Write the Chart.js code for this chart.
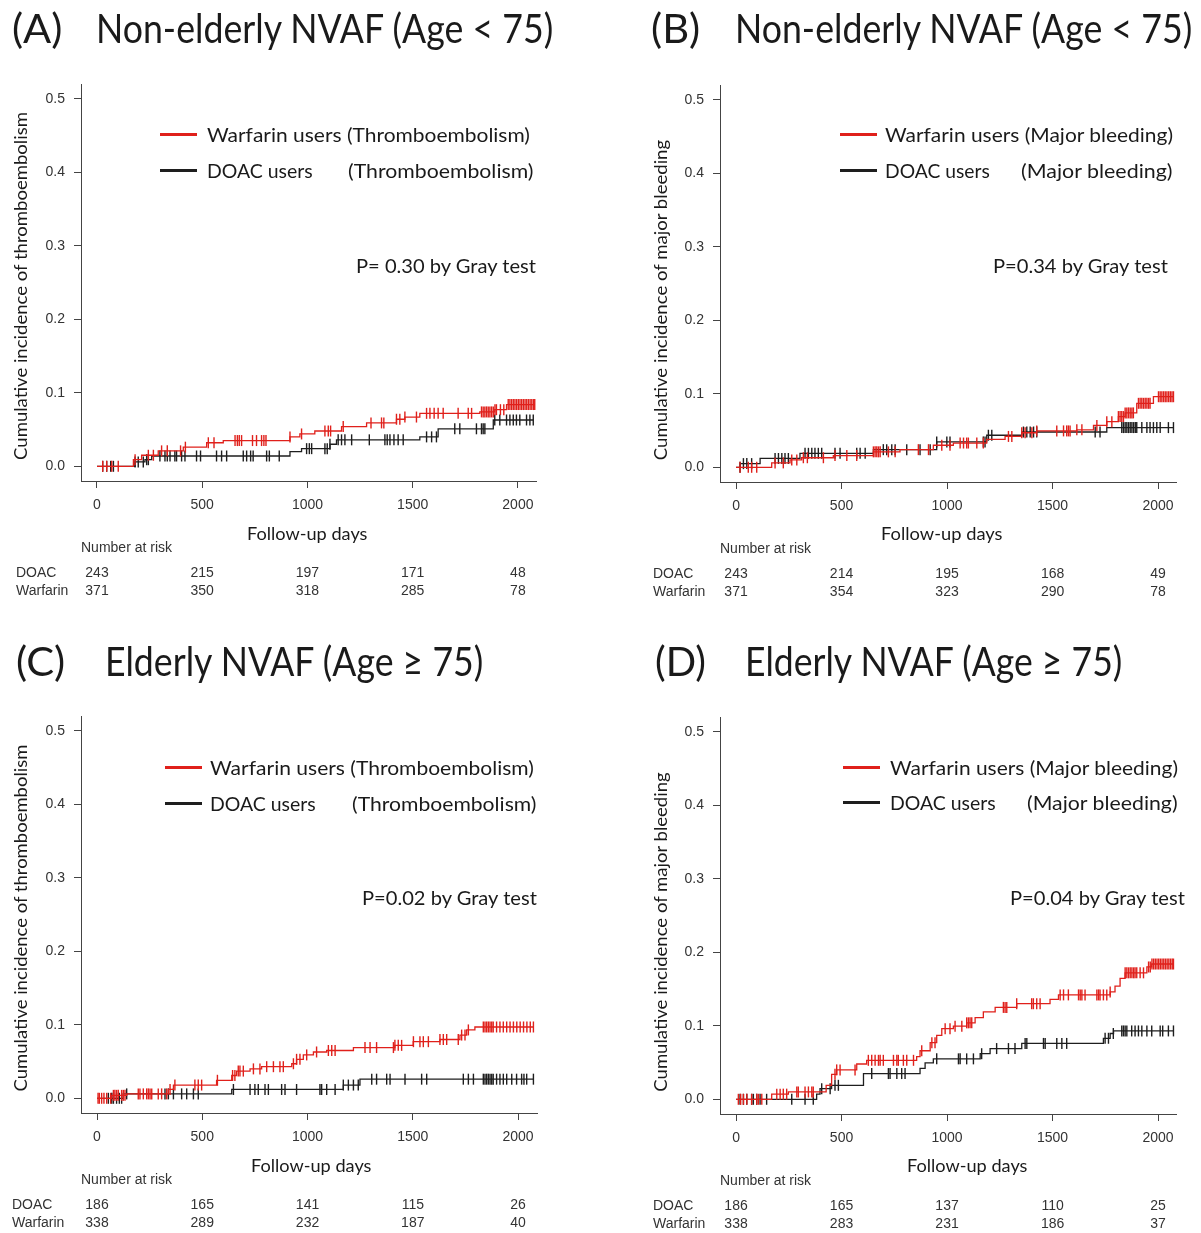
<!DOCTYPE html>
<html>
<head>
<meta charset="utf-8">
<script src="https://cdn.jsdelivr.net/npm/chart.js@4.4.0/dist/chart.umd.min.js"></script>
<style>
  body { margin: 0; background: #fff; width: 1201px; height: 1233px; position: relative; overflow: hidden; font-family: Lato, "Noto Sans", sans-serif; color: #1a1a1a; }
  canvas { position: absolute; }
  .t { position: absolute; white-space: nowrap; line-height: 1; }
  .sw { position: absolute; height: 3px; width: 37px; }
</style>
</head>
<body>
<script>
// ---------------------------------------------------------------
//  cumulative incidence curves (Gray test), 4 panels
// ---------------------------------------------------------------

const xTicks = [0, 500, 1000, 1500, 2000];
const yTicks = [0, 0.1, 0.2, 0.3, 0.4, 0.5];

// (A) non-elderly, thromboembolism
const aWarfarinDays = [0, 173, 212, 291, 410, 521, 600, 917, 964, 1035, 1162, 1281, 1423, 1463, 1534, 1819, 1890, 1946];
const aWarfarinCI = [0, 0.009, 0.015, 0.021, 0.026, 0.032, 0.035, 0.040, 0.044, 0.048, 0.054, 0.059, 0.064, 0.067, 0.072, 0.074, 0.077, 0.084];
const aWarfarinCensored = [27, 46, 70, 101, 181, 244, 268, 307, 334, 397, 420, 529, 556, 656, 667, 676, 687, 739, 758, 782, 793, 803, 917, 972, 1083, 1099, 1110, 1170, 1302, 1352, 1363, 1423, 1439, 1463, 1518, 1566, 1582, 1602, 1621, 1645, 1716, 1764, 1780, 1827, 1835, 1843, 1851, 1859, 1867, 1875, 1883, 1891, 1898, 1917, 1933, 1954, 1962, 1970, 1978, 1986, 1994, 2002, 2010, 2018, 2026, 2034, 2042, 2050, 2058, 2066, 2074, 2080];
const aDoacDays = [0, 181, 228, 260, 917, 972, 1107, 1138, 1534, 1621, 1883];
const aDoacCI = [0, 0.006, 0.009, 0.014, 0.020, 0.024, 0.030, 0.036, 0.040, 0.051, 0.063];
const aDoacCensored = [27, 46, 65, 78, 181, 196, 220, 236, 244, 299, 323, 334, 347, 370, 378, 402, 418, 473, 492, 568, 592, 616, 695, 711, 730, 742, 806, 819, 866, 996, 1009, 1020, 1083, 1094, 1107, 1146, 1162, 1178, 1210, 1294, 1368, 1379, 1392, 1411, 1431, 1455, 1566, 1590, 1613, 1700, 1724, 1803, 1827, 1835, 1843, 1890, 1914, 1946, 1962, 1978, 1993, 2009, 2041, 2057, 2073];
const aRiskDoac = [243, 215, 197, 171, 48];
const aRiskWarfarin = [371, 350, 318, 285, 78];

// (B) non-elderly, major bleeding
const bWarfarinDays = [0, 169, 256, 311, 461, 651, 777, 935, 1030, 1188, 1275, 1354, 1425, 1615, 1694, 1757, 1812, 1844, 1899, 1978];
const bWarfarinCI = [0, 0.006, 0.010, 0.013, 0.016, 0.021, 0.024, 0.030, 0.033, 0.038, 0.042, 0.047, 0.0495, 0.051, 0.057, 0.062, 0.069, 0.074, 0.087, 0.096];
const bWarfarinCensored = [19, 58, 74, 98, 185, 224, 264, 288, 319, 338, 414, 469, 525, 572, 651, 659, 667, 675, 683, 722, 754, 864, 912, 975, 1014, 1062, 1078, 1093, 1101, 1141, 1172, 1291, 1307, 1354, 1370, 1402, 1425, 1520, 1552, 1567, 1575, 1583, 1615, 1639, 1710, 1757, 1781, 1812, 1820, 1828, 1836, 1844, 1852, 1860, 1868, 1876, 1883, 1907, 1915, 1923, 1931, 1939, 1947, 1955, 1962, 2002, 2010, 2018, 2026, 2034, 2042, 2050, 2058, 2066, 2073];
const bDoacDays = [0, 20, 114, 303, 651, 951, 1188, 1354, 1757];
const bDoacCI = [0, 0.005, 0.012, 0.019, 0.024, 0.0345, 0.0436, 0.048, 0.054];
const bDoacCensored = [19, 35, 51, 74, 185, 201, 217, 232, 248, 327, 343, 359, 374, 390, 406, 469, 493, 572, 588, 612, 698, 714, 738, 754, 809, 872, 920, 951, 999, 1014, 1172, 1180, 1196, 1212, 1362, 1378, 1394, 1410, 1425, 1702, 1725, 1828, 1836, 1844, 1852, 1860, 1868, 1876, 1884, 1892, 1899, 1923, 1947, 1962, 1978, 1994, 2010, 2049, 2073];
const bRiskDoac = [243, 214, 195, 168, 49];
const bRiskWarfarin = [371, 354, 323, 290, 78];

// (C) elderly, thromboembolism
const cWarfarinDays = [0, 70, 141, 339, 363, 568, 640, 663, 727, 782, 925, 948, 980, 1028, 1091, 1218, 1415, 1502, 1629, 1724, 1756, 1795];
const cWarfarinCI = [0, 0.004, 0.006, 0.012, 0.018, 0.0245, 0.031, 0.037, 0.040, 0.043, 0.047, 0.053, 0.059, 0.063, 0.065, 0.069, 0.072, 0.077, 0.080, 0.086, 0.093, 0.097];
const cWarfarinCensored = [5, 11, 22, 33, 46, 65, 78, 85, 93, 101, 117, 125, 133, 196, 204, 220, 236, 244, 252, 260, 291, 307, 331, 347, 370, 465, 481, 497, 572, 644, 655, 671, 679, 695, 743, 774, 806, 838, 869, 885, 933, 948, 964, 996, 1043, 1099, 1115, 1131, 1273, 1297, 1328, 1408, 1415, 1431, 1447, 1503, 1534, 1550, 1574, 1629, 1645, 1661, 1716, 1732, 1748, 1764, 1835, 1843, 1851, 1859, 1867, 1875, 1882, 1898, 1914, 1930, 1946, 1962, 1978, 1994, 2010, 2026, 2042, 2058, 2073];
const cDoacDays = [0, 125, 640, 1170, 1249];
const cDoacCI = [0, 0.006, 0.012, 0.018, 0.026];
const cDoacCensored = [54, 70, 78, 93, 106, 117, 141, 323, 339, 363, 402, 426, 458, 481, 648, 727, 750, 766, 798, 814, 877, 893, 948, 1059, 1067, 1091, 1131, 1170, 1194, 1218, 1241, 1305, 1328, 1376, 1392, 1463, 1542, 1566, 1740, 1764, 1788, 1835, 1843, 1851, 1859, 1867, 1875, 1882, 1898, 1914, 1930, 1946, 1970, 1993, 2017, 2028, 2041, 2073];
const cRiskDoac = [186, 165, 141, 115, 26];
const cRiskWarfarin = [338, 289, 232, 187, 40];

// (D) elderly, major bleeding
const dWarfarinDays = [0, 169, 248, 427, 453, 477, 572, 619, 856, 872, 920, 951, 975, 1030, 1093, 1133, 1172, 1228, 1330, 1488, 1528, 1773, 1796, 1820, 1844, 1947, 1970];
const dWarfarinCI = [0, 0.007, 0.010, 0.019, 0.034, 0.040, 0.048, 0.053, 0.058, 0.066, 0.077, 0.087, 0.096, 0.0995, 0.104, 0.111, 0.119, 0.125, 0.130, 0.136, 0.142, 0.146, 0.154, 0.1645, 0.172, 0.180, 0.184];
const dWarfarinCensored = [11, 22, 35, 51, 74, 98, 106, 122, 193, 209, 224, 240, 288, 295, 327, 343, 359, 366, 469, 477, 493, 564, 627, 643, 659, 675, 683, 698, 746, 762, 769, 793, 809, 841, 880, 928, 943, 991, 1014, 1038, 1070, 1093, 1101, 1109, 1117, 1267, 1275, 1283, 1330, 1401, 1409, 1425, 1441, 1536, 1552, 1575, 1623, 1631, 1639, 1654, 1710, 1718, 1725, 1741, 1757, 1773, 1844, 1852, 1860, 1868, 1876, 1884, 1891, 1899, 1915, 1931, 1955, 1963, 1971, 1979, 1987, 1995, 2003, 2011, 2019, 2027, 2035, 2043, 2051, 2059, 2067, 2073];
const dDoacDays = [0, 382, 398, 453, 604, 872, 896, 935, 1157, 1204, 1354, 1741, 1773, 1789];
const dDoacCI = [0, 0.007, 0.0145, 0.019, 0.035, 0.042, 0.0495, 0.055, 0.062, 0.069, 0.076, 0.083, 0.0895, 0.093];
const dDoacCensored = [19, 35, 51, 74, 82, 98, 114, 145, 264, 327, 366, 406, 446, 469, 485, 643, 722, 730, 762, 785, 801, 951, 1054, 1062, 1093, 1125, 1164, 1235, 1291, 1322, 1370, 1378, 1457, 1465, 1520, 1544, 1567, 1749, 1765, 1788, 1828, 1836, 1844, 1852, 1875, 1891, 1907, 1923, 1947, 1970, 2010, 2022, 2049, 2073];
const dRiskDoac = [186, 165, 137, 110, 25];
const dRiskWarfarin = [338, 283, 231, 186, 37];

const RED = "#e0201b";
const BLACK = "#1e1e1e";

// value of a step curve at day t
function ciAt(days, ci, t) {
    let v = ci[0];
    for (let i = 0; i < days.length; i++) if (days[i] <= t) v = ci[i];
    return v;
}

function curvePoints(days, ci, censored) {
    const pts = days.map((d, i) => ({ x: d, y: ci[i] }));
    pts.push({ x: censored[censored.length - 1], y: ci[ci.length - 1] });
    return pts;
}

function censorPoints(days, ci, censored) {
    return censored.map(t => ({ x: t, y: ciAt(days, ci, t) }));
}

// number at risk table under the x axis
const riskTable = {
    id: "riskTable",
    afterDraw(chart, args, o) {
        const { ctx, chartArea, scales } = chart;
        ctx.save();
        ctx.font = '14px "Liberation Sans", Arial, sans-serif';
        ctx.fillStyle = "#333";
        ctx.textBaseline = "middle";
        ctx.textAlign = "left";
        ctx.fillText("Number at risk", chartArea.left, chartArea.bottom + 67);
        ctx.fillText("DOAC", chartArea.left + o.labelDx, chartArea.bottom + 92);
        ctx.fillText("Warfarin", chartArea.left + o.labelDx, chartArea.bottom + 110);
        ctx.textAlign = "center";
        xTicks.forEach((d, i) => {
            const x = scales.x.getPixelForValue(d);
            ctx.fillText(String(o.doac[i]), x, chartArea.bottom + 92);
            ctx.fillText(String(o.warfarin[i]), x, chartArea.bottom + 110);
        });
        ctx.restore();
    }
};

const panels = [
    { left: 0, top: 0, w: 600, h: 610, pad: { left: 41, right: 64, top: 84, bottom: 89 }, xMax: 2086, labelDx: -65,
      wd: aWarfarinDays, wc: aWarfarinCI, ws: aWarfarinCensored, dd: aDoacDays, dc: aDoacCI, ds: aDoacCensored, rd: aRiskDoac, rw: aRiskWarfarin },
    { left: 600, top: 0, w: 601, h: 610, pad: { left: 80, right: 25, top: 85, bottom: 88 }, xMax: 2085, labelDx: -67,
      wd: bWarfarinDays, wc: bWarfarinCI, ws: bWarfarinCensored, dd: bDoacDays, dc: bDoacCI, ds: bDoacCensored, rd: bRiskDoac, rw: bRiskWarfarin },
    { left: 0, top: 615, w: 600, h: 618, pad: { left: 41, right: 63, top: 101, bottom: 80 }, xMax: 2090, labelDx: -69,
      wd: cWarfarinDays, wc: cWarfarinCI, ws: cWarfarinCensored, dd: cDoacDays, dc: cDoacCI, ds: cDoacCensored, rd: cRiskDoac, rw: cRiskWarfarin },
    { left: 600, top: 615, w: 601, h: 618, pad: { left: 80, right: 25, top: 102, bottom: 79 }, xMax: 2085, labelDx: -67,
      wd: dWarfarinDays, wc: dWarfarinCI, ws: dWarfarinCensored, dd: dDoacDays, dc: dDoacCI, ds: dDoacCensored, rd: dRiskDoac, rw: dRiskWarfarin }
];

function stepSet(data, color) {
    return { data, borderColor: color, borderWidth: 1.3, stepped: true, pointRadius: 0, fill: false };
}

function censorSet(data, color) {
    return {
        data, showLine: false, borderColor: color,
        pointStyle: "line", pointRotation: 90, pointRadius: 5.5, pointHoverRadius: 5.5,
        pointBorderColor: color, pointBackgroundColor: color, pointBorderWidth: 1.4
    };
}

const tickFont = { family: '"Liberation Sans", Arial, sans-serif', size: 14 };

panels.forEach(p => {
    const cv = document.createElement("canvas");
    cv.width = p.w;
    cv.height = p.h;
    cv.style.left = p.left + "px";
    cv.style.top = p.top + "px";
    document.body.appendChild(cv);

    new Chart(cv.getContext("2d"), {
        type: "line",
        data: {
            datasets: [
                censorSet(censorPoints(p.wd, p.wc, p.ws), RED),
                stepSet(curvePoints(p.wd, p.wc, p.ws), RED),
                censorSet(censorPoints(p.dd, p.dc, p.ds), BLACK),
                stepSet(curvePoints(p.dd, p.dc, p.ds), BLACK)
            ]
        },
        plugins: [riskTable],
        options: {
            responsive: false,
            animation: false,
            events: [],
            layout: { autoPadding: false, padding: p.pad },
            plugins: {
                legend: { display: false },
                tooltip: { enabled: false },
                riskTable: { labelDx: p.labelDx, doac: p.rd, warfarin: p.rw }
            },
            scales: {
                x: {
                    type: "linear", min: -76, max: p.xMax,
                    afterBuildTicks: s => { s.ticks = xTicks.map(v => ({ value: v })); },
                    afterFit: s => { s.height = 40; },
                    grid: { drawOnChartArea: false, drawTicks: true, tickLength: 7, color: "#444" },
                    border: { display: true, color: "#444", width: 1 },
                    ticks: { font: tickFont, color: "#333", padding: 9, autoSkip: false, maxRotation: 0, callback: v => String(v) }
                },
                y: {
                    type: "linear", min: -0.02, max: 0.52,
                    afterBuildTicks: s => { s.ticks = yTicks.map(v => ({ value: v })); },
                    afterFit: s => { s.width = 40; },
                    grid: { drawOnChartArea: false, drawTicks: true, tickLength: 7, color: "#444" },
                    border: { display: true, color: "#444", width: 1 },
                    ticks: { font: tickFont, color: "#333", padding: 9, autoSkip: false, callback: v => v.toFixed(1) }
                }
            }
        }
    });
});

// ---- text around the plots (titles, legends, p values, axis titles) ----
function addText(txt, x, y, w, size, mode) {
    const el = document.createElement("div");
    el.className = "t";
    el.textContent = txt;
    el.style.fontSize = size + "px";
    document.body.appendChild(el);
    const k = w / el.offsetWidth;
    if (mode === "rot") {
        el.style.left = x + "px";
        el.style.top = y + "px";
        el.style.transformOrigin = "50% 50%";
        el.style.transform = `translate(-50%, -50%) rotate(-90deg) scaleX(${k})`;
    } else {
        el.style.left = (mode === "center" ? x - w / 2 : x) + "px";
        el.style.top = y + "px";
        el.style.transformOrigin = "0 50%";
        el.style.transform = `translateY(-50%) scaleX(${k})`;
    }
}

function addSwatch(x, y, color) {
    const el = document.createElement("div");
    el.className = "sw";
    el.style.left = x + "px";
    el.style.top = (y - 1.5) + "px";
    el.style.background = color;
    document.body.appendChild(el);
}

// panel A
addText("(A)", 12, 28, 50, 40);
addText("Non-elderly NVAF (Age < 75)", 96, 28, 457, 40);
addSwatch(160, 134, RED);
addSwatch(160, 170, BLACK);
addText("Warfarin users (Thromboembolism)", 207, 134, 323, 20);
addText("DOAC users", 207, 170, 106, 20);
addText("(Thromboembolism)", 348, 170, 186, 20);
addText("P= 0.30 by Gray test", 356, 265, 180, 20);
addText("Cumulative incidence of thromboembolism", 20, 286, 348, 18, "rot");
addText("Follow-up days", 307, 533, 120, 18, "center");

// panel B
addText("(B)", 651, 28, 49, 40);
addText("Non-elderly NVAF (Age < 75)", 735, 28, 457, 40);
addSwatch(840, 134, RED);
addSwatch(840, 170, BLACK);
addText("Warfarin users (Major bleeding)", 885, 134, 288, 20);
addText("DOAC users", 885, 170, 105, 20);
addText("(Major bleeding)", 1021, 170, 152, 20);
addText("P=0.34 by Gray test", 993, 265, 175, 20);
addText("Cumulative incidence of major bleeding", 660, 300, 320, 18, "rot");
addText("Follow-up days", 941, 533, 121, 18, "center");

// panel C
addText("(C)", 16, 661, 49, 40);
addText("Elderly NVAF (Age \u2265 75)", 105, 661, 378, 40);
addSwatch(165, 767, RED);
addSwatch(165, 803, BLACK);
addText("Warfarin users (Thromboembolism)", 210, 767, 324, 20);
addText("DOAC users", 210, 803, 106, 20);
addText("(Thromboembolism)", 352, 803, 185, 20);
addText("P=0.02 by Gray test", 362, 897, 175, 20);
addText("Cumulative incidence of thromboembolism", 20, 918, 347, 18, "rot");
addText("Follow-up days", 311, 1165, 120, 18, "center");

// panel D
addText("(D)", 655, 661, 51, 40);
addText("Elderly NVAF (Age \u2265 75)", 745, 661, 377, 40);
addSwatch(843, 767, RED);
addSwatch(843, 802, BLACK);
addText("Warfarin users (Major bleeding)", 890, 767, 288, 20);
addText("DOAC users", 890, 802, 106, 20);
addText("(Major bleeding)", 1027, 802, 151, 20);
addText("P=0.04 by Gray test", 1010, 897, 175, 20);
addText("Cumulative incidence of major bleeding", 660, 932, 319, 18, "rot");
addText("Follow-up days", 967, 1165, 120, 18, "center");
</script>
</body>
</html>
